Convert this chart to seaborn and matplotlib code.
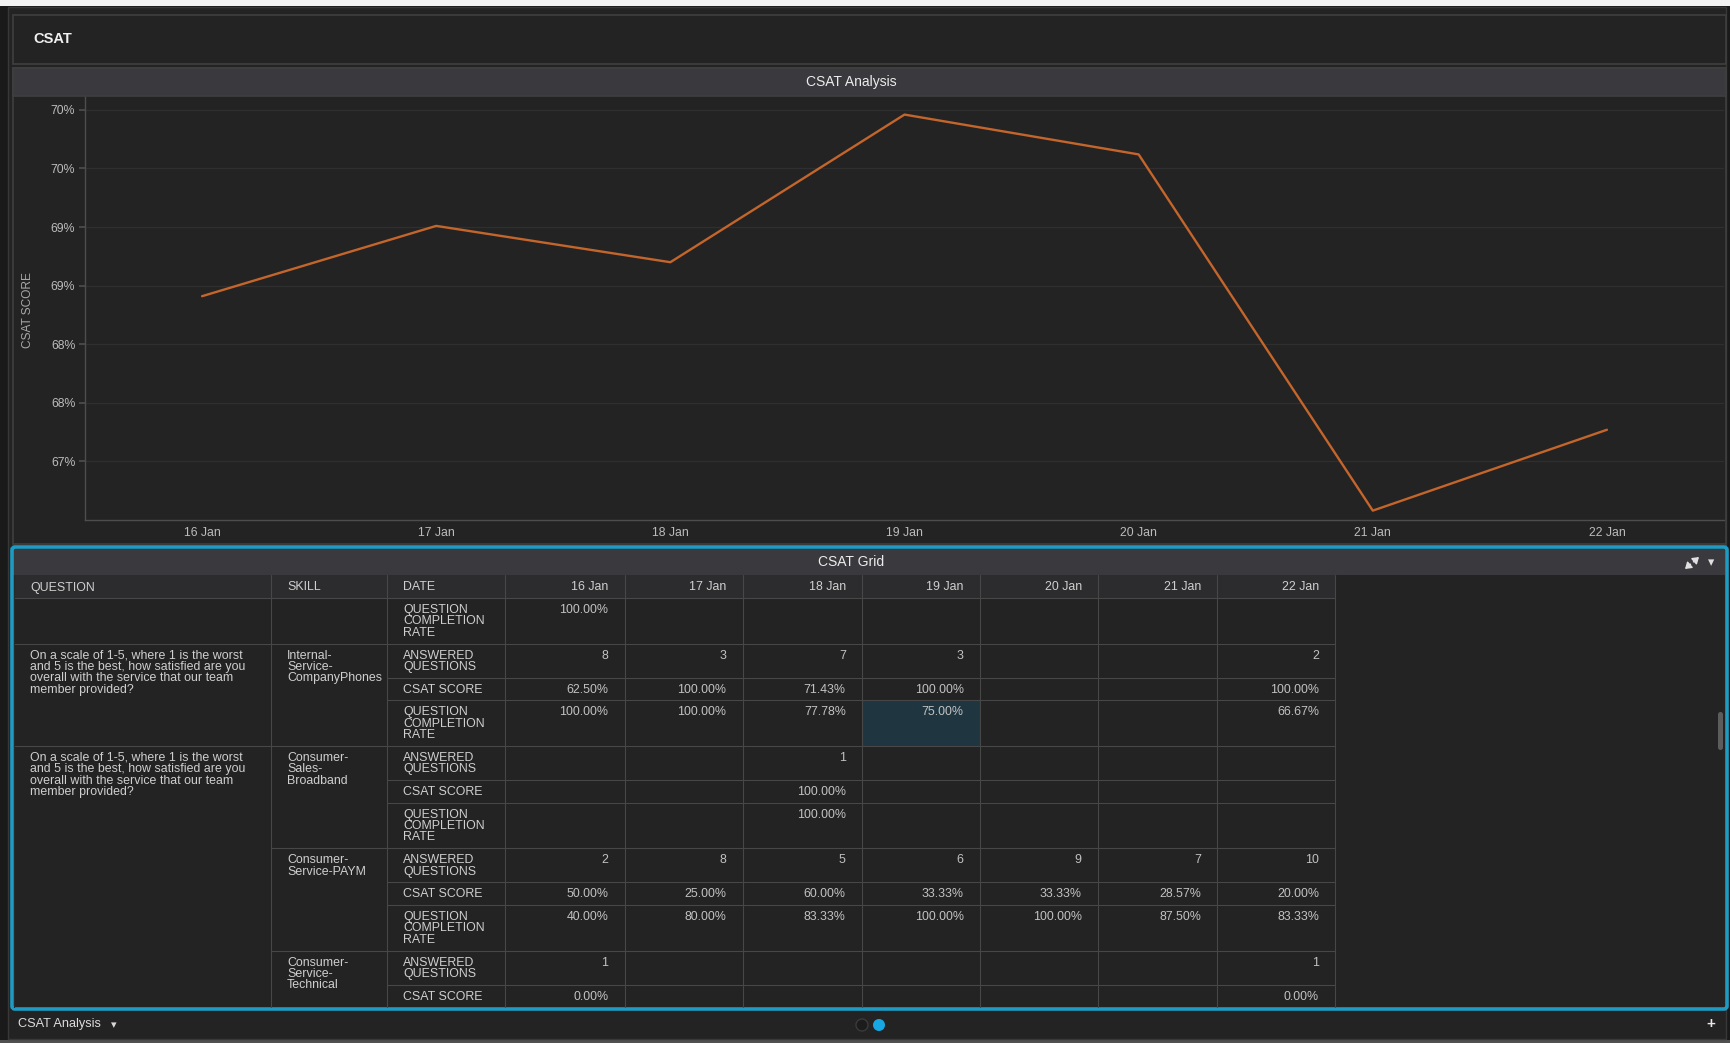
import numpy as np
import pandas as pd
import matplotlib
matplotlib.use('Agg')
import matplotlib.pyplot as plt
import seaborn as sns
from matplotlib.patches import Rectangle, FancyBboxPatch, Circle

# chart data
dates = ['16 Jan', '17 Jan', '18 Jan', '19 Jan', '20 Jan', '21 Jan', '22 Jan']
csat_score = [68.91, 69.51, 69.20, 70.46, 70.12, 67.08, 67.77]
y_ticks = [67.5, 68.0, 68.5, 69.0, 69.5, 70.0, 70.5]

# grid data
grid_header = ['QUESTION', 'SKILL', 'DATE'] + dates
question_text = ['On a scale of 1-5, where 1 is the worst',
                 'and 5 is the best, how satisfied are you',
                 'overall with the service that our team',
                 'member provided?']
question_groups = [([], 0, 0), (question_text, 1, 3), (question_text, 4, 11)]
skill_groups = [([], 0, 0),
                (['Internal-', 'Service-', 'CompanyPhones'], 1, 3),
                (['Consumer-', 'Sales-', 'Broadband'], 4, 6),
                (['Consumer-', 'Service-PAYM'], 7, 9),
                (['Consumer-', 'Service-', 'Technical'], 10, 11)]
qcr = ['QUESTION', 'COMPLETION', 'RATE']
ans = ['ANSWERED', 'QUESTIONS']
csat = ['CSAT SCORE']
grid_metrics = [qcr, ans, csat, qcr, ans, csat, qcr, ans, csat, qcr, ans, csat]
grid_values = [
    ['100.00%', '', '', '', '', '', ''],
    ['8', '3', '7', '3', '', '', '2'],
    ['62.50%', '100.00%', '71.43%', '100.00%', '', '', '100.00%'],
    ['100.00%', '100.00%', '77.78%', '75.00%', '', '', '66.67%'],
    ['', '', '1', '', '', '', ''],
    ['', '', '100.00%', '', '', '', ''],
    ['', '', '100.00%', '', '', '', ''],
    ['2', '8', '5', '6', '9', '7', '10'],
    ['50.00%', '25.00%', '60.00%', '33.33%', '33.33%', '28.57%', '20.00%'],
    ['40.00%', '80.00%', '83.33%', '100.00%', '100.00%', '87.50%', '83.33%'],
    ['1', '', '', '', '', '', '1'],
    ['0.00%', '', '', '', '', '', '0.00%'],
]
highlight_cell = (3, 3)  # row, date index

W, H = 1730, 1043
sns.set_theme(style='dark')
plt.rcParams['font.family'] = ['Liberation Sans', 'DejaVu Sans']

BG = '#232323'
BAR = '#3a393d'
EDGE = '#3f3f3f'
CYAN = '#1e9bc2'
TXT = '#cfcfcf'
GRID = '#474747'

fig = plt.figure(figsize=(W / 100, H / 100), dpi=100, facecolor='#1a1a1a')
bg = fig.add_axes([0, 0, 1, 1])
bg.set_xlim(0, W)
bg.set_ylim(H, 0)
bg.axis('off')
bg.set_facecolor('#1a1a1a')

# outer frame
bg.add_patch(Rectangle((0, 0), W, 6, fc='#f2f2f2', ec='none'))
bg.add_patch(Rectangle((0, 1040), W, 3, fc='#505050', ec='none'))
bg.add_patch(Rectangle((8, 7), 1718, 1032, fc=BG, ec='#383838', lw=1))

# header panel
bg.add_patch(Rectangle((13, 15), 1713, 49, fc=BG, ec=EDGE, lw=1.2))
bg.text(33, 39, 'CSAT', color='#f0f0f0', fontsize=10.5, fontweight='bold', va='center')

# chart panel
bg.add_patch(Rectangle((13, 68), 1713, 476, fc=BG, ec=EDGE, lw=1.2))
bg.add_patch(Rectangle((13, 68), 1713, 28, fc=BAR, ec=EDGE, lw=1.2))
bg.text(851, 82, 'CSAT Analysis', color='#ececec', fontsize=10, ha='center', va='center')
bg.text(28, 310, 'CSAT SCORE', color='#a8a8a8', fontsize=8.6, rotation=90,
        ha='center', va='center')

# grid panel
bg.add_patch(Rectangle((12, 547), 1715, 462, fc=BG, ec='none'))
bg.add_patch(Rectangle((13, 549), 1712, 26, fc=BAR, ec='none'))
bg.text(851, 562, 'CSAT Grid', color='#ececec', fontsize=10, ha='center', va='center')
# expand icon: two small diagonal arrows pointing outwards
for dx, dy in [(1, -1), (-1, 1)]:
    bg.annotate('', xy=(1692 + dx * 7, 563 + dy * 6), xytext=(1692 + dx * 1.5, 563 + dy * 1.2),
                arrowprops=dict(arrowstyle='-|>,head_length=0.3,head_width=0.2',
                                color='#e0e0e0', lw=1.1, shrinkA=0, shrinkB=0))
bg.text(1711, 563, '▾', color='#e0e0e0', fontsize=9, ha='center', va='center',
        family=['DejaVu Sans'])

col_edges = [14, 271, 387, 505, 624.5, 742.5, 861.7, 979.7, 1097.8, 1217, 1335]
header_top, header_bot = 575, 598
bg.add_patch(Rectangle((col_edges[0], header_top), col_edges[-1] - col_edges[0],
                       header_bot - header_top, fc='#2c2c2e', ec='none'))

row_edges = [header_bot]
for m in grid_metrics:
    row_edges.append(row_edges[-1] + 11.5 * len(m) + 11.1)

hr, hc = highlight_cell
bg.add_patch(Rectangle((col_edges[3 + hc], row_edges[hr]),
                       col_edges[4 + hc] - col_edges[3 + hc],
                       row_edges[hr + 1] - row_edges[hr], fc='#1f3641', ec='none'))

PAD = 16
LS = 11.3
FS = 8.9
clip = Rectangle((12, 547), 1715, 461, transform=bg.transData)

def cell_lines(x, ytop, lines, ha='left', color=TXT):
    for i, s in enumerate(lines):
        t = bg.text(x, ytop + 12 + i * LS, s, color=color, fontsize=FS, ha=ha,
                    va='center')
        t.set_clip_path(clip)

# header texts
for j, h in enumerate(grid_header):
    if j < 3:
        bg.text(col_edges[j] + PAD, (header_top + header_bot) / 2 + 1, h, color=TXT,
                fontsize=FS, va='center')
    else:
        bg.text(col_edges[j + 1] - PAD, (header_top + header_bot) / 2 + 1, h, color=TXT,
                fontsize=FS, va='center', ha='right')

# body texts
for i, m in enumerate(grid_metrics):
    cell_lines(col_edges[2] + PAD, row_edges[i], m)
    for j, v in enumerate(grid_values[i]):
        if v:
            cell_lines(col_edges[4 + j] - PAD, row_edges[i], [v], ha='right',
                       color='#c2c2c2')
for lines, r0, r1 in question_groups:
    cell_lines(col_edges[0] + PAD, row_edges[r0], lines)
for lines, r0, r1 in skill_groups:
    cell_lines(col_edges[1] + PAD, row_edges[r0], lines)

# grid lines
def hline(y, x0, x1):
    ln, = bg.plot([x0, x1], [y, y], color=GRID, lw=0.8)
    ln.set_clip_path(clip)

hline(header_bot, col_edges[0], col_edges[-1])
q_starts = {r0 for _, r0, _ in question_groups}
s_starts = {r0 for _, r0, _ in skill_groups}
for i in range(1, len(grid_metrics)):
    if i in q_starts:
        x0 = col_edges[0]
    elif i in s_starts:
        x0 = col_edges[1]
    else:
        x0 = col_edges[2]
    hline(row_edges[i], x0, col_edges[-1])
for j, x in enumerate(col_edges):
    ln, = bg.plot([x, x], [header_top, 1008], color=GRID if j else '#2a2a2a', lw=0.8)
    ln.set_clip_path(clip)

# cyan border of the active panel
bg.add_patch(FancyBboxPatch((12, 547), 1715, 462, boxstyle='round,pad=0,rounding_size=3',
                            fc='none', ec=CYAN, lw=2.6))
# scrollbar
bg.add_patch(FancyBboxPatch((1718, 712), 5, 38, boxstyle='round,pad=0,rounding_size=2.5',
                            fc='#5c5c5c', ec='none'))

# bottom bar
bg.text(18, 1024, 'CSAT Analysis', color='#dcdcdc', fontsize=9.2, va='center')
bg.text(114, 1025, '▾', color='#d8d8d8', fontsize=8, va='center', ha='center',
        family=['DejaVu Sans'])
bg.add_patch(Circle((862, 1025), 6, fc='#1c1c1c', ec='#3a3a3a', lw=1))
bg.add_patch(Circle((879, 1025), 6, fc='#17a8e3', ec='none'))
bg.text(1711, 1024, '+', color='#e8e8e8', fontsize=11, fontweight='bold',
        ha='center', va='center')

# line chart
ax = fig.add_axes([85 / W, 1 - 520 / H, (1724 - 85) / W, (520 - 97) / H])
ax.set_facecolor(BG)
df = pd.DataFrame({'date': dates, 'csat': csat_score})
sns.lineplot(data=df, x='date', y='csat', ax=ax, color='#c4652b', lw=1.7, sort=False)
ax.set_xlim(-0.5, len(dates) - 0.5)
ax.set_ylim(67.0, 70.61)
ax.set_yticks(y_ticks)
ax.set_yticklabels([f'{int(np.floor(v))}%' for v in y_ticks])
ax.set_xlabel('')
ax.set_ylabel('')
ax.grid(axis='y', color='#2f2f2f', lw=0.9)
ax.grid(axis='x', visible=False)
for s in ['top', 'right']:
    ax.spines[s].set_visible(False)
for s in ['left', 'bottom']:
    ax.spines[s].set_color('#4d4d4d')
    ax.spines[s].set_linewidth(1)
ax.tick_params(axis='y', colors='#bcbcbc', labelsize=8.8, length=4, color='#4d4d4d',
               pad=3, left=True)
ax.tick_params(axis='x', colors='#bcbcbc', labelsize=8.8, length=0, pad=5)

fig.savefig('out.png', dpi=100, facecolor=fig.get_facecolor())
